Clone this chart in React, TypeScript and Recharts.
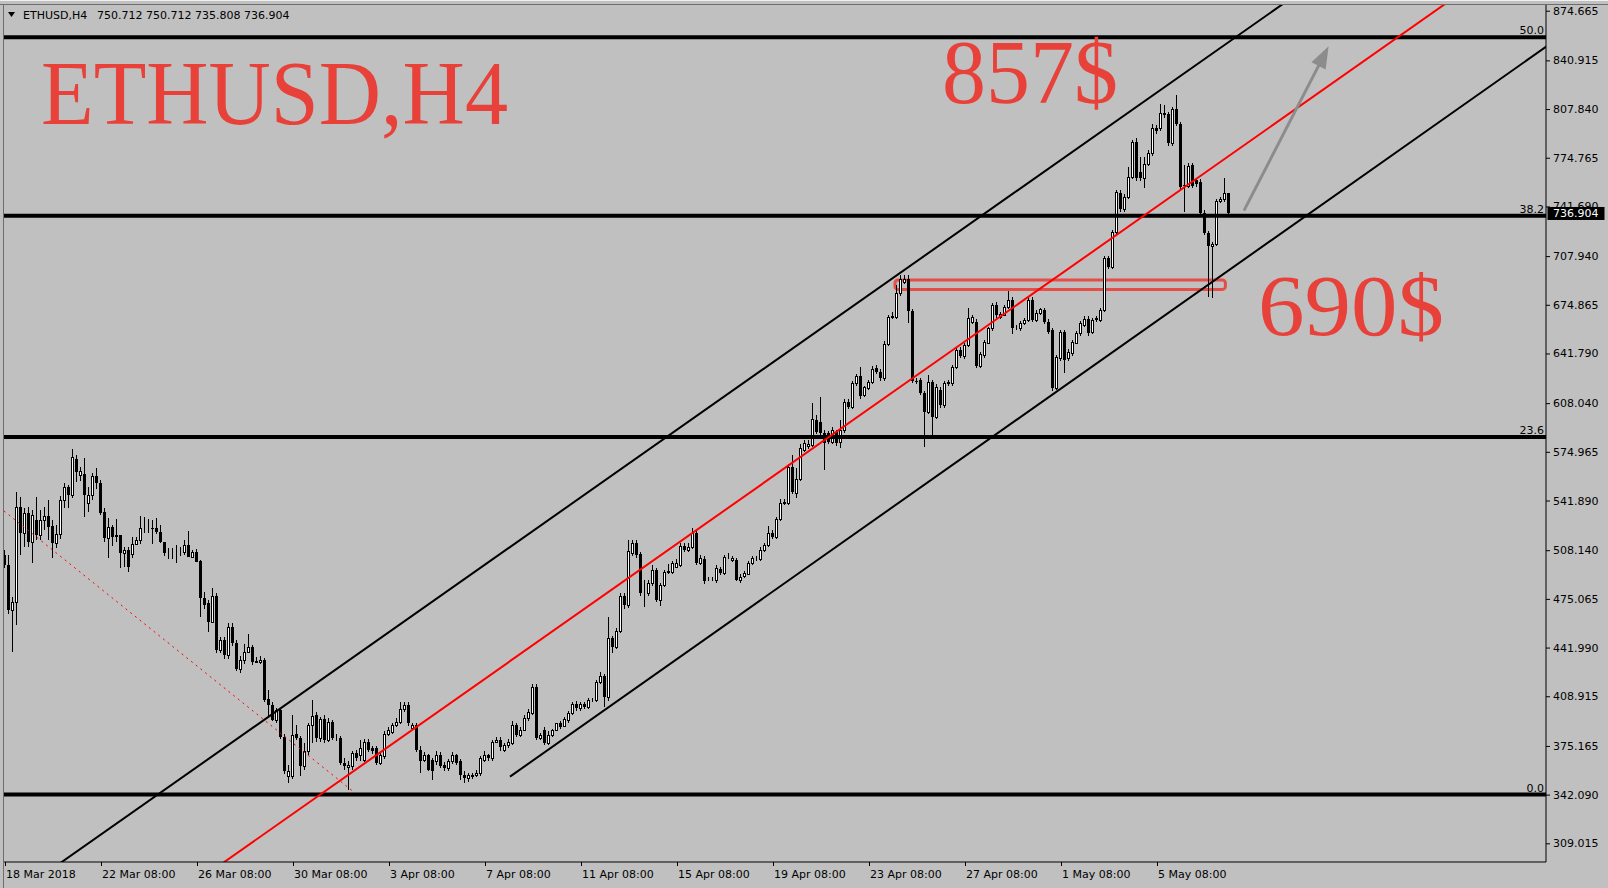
import React from "react";
import { ComposedChart, Bar, XAxis, YAxis, ReferenceLine, ReferenceArea } from "recharts";

// H4 candles, one row per bar: [open, high, low, close]. Bar 0 = 18 Mar 08:00.
type Ohlc = [number, number, number, number];

const bars18Mar: Ohlc[] = [
  [504.9, 508, 496, 498.1], [498.1, 505, 465, 467.5], [467.5, 476.6, 439.2, 473.2], [473.2, 547.9, 457.4, 537.7],
  [537.7, 544.5, 504.9, 519.6], [519.6, 536.6, 510.6, 533.2], [533.2, 537.7, 510, 514.0], [514.0, 535.5, 499.7, 532.1],
  [528.7, 544.5, 515.1, 518.5], [518.5, 535.5, 515.1, 528.7], [528.7, 537.7, 521.9, 531.4], [531.4, 542.3, 515.1, 524.1],
  [524.6, 528.7, 502.6, 512.8], [512.8, 525.3, 509.4, 518.9], [518.9, 545, 516, 542.3], [542.3, 553.6, 536.6, 550.9],
  [550.9, 552.4, 536.6, 545.7], [545.7, 576.9, 543.4, 571.2], [569.9, 572.8, 554.7, 561.5], [559.2, 565, 555, 561.9],
  [559.9, 570.6, 530.9, 545.7], [540.0, 551.3, 534.3, 545.7], [545.7, 560.4, 542, 558.6], [558.6, 563.8, 550, 553.6],
];
const bars22Mar: Ohlc[] = [
  [553.6, 555.8, 532.1, 533.2], [534.3, 537, 514, 516.2], [516.2, 529.8, 503.1, 524.1], [524.1, 525.3, 511.2, 517.4],
  [518.5, 529.1, 514, 517.4], [518.5, 518.5, 495.8, 506.0], [506.0, 510.6, 497, 508.3], [508.3, 510.6, 493.6, 497.0],
  [505.3, 517.4, 503, 512.1], [512.1, 516.9, 511.7, 515.1], [515.1, 531.4, 512.1, 523.0], [523.0, 530.5, 520, 523.5],
  [523.5, 529.1, 519.6, 523.5], [523.5, 528.7, 512.1, 523.0], [523.5, 529.8, 519, 520.7], [520.7, 525.3, 512.8, 513.5],
  [513.5, 514, 504, 506.0], [506.5, 509.4, 502, 506.5], [506.5, 509.4, 502, 506.5], [506.8, 511.7, 499.2, 507.0],
  [507.2, 510, 504, 507.2], [507.2, 515.1, 505, 511.7], [511.7, 521.2, 503.8, 503.8], [503.8, 508.3, 503.3, 506.7],
];
const bars26Mar: Ohlc[] = [
  [506.7, 509, 500.4, 500.4], [500.8, 501.5, 463, 475.5], [475.5, 479.9, 468, 471.0], [472.1, 474, 452.8, 459.6],
  [459.6, 482.3, 458.5, 477.1], [477.1, 479, 438, 440.4], [440.3, 449, 438, 447.1], [447.1, 449, 434, 436.9],
  [436.9, 458.5, 434, 455.8], [455.8, 458.5, 443, 445.3], [445.3, 447, 426, 427.2], [427.2, 436, 425, 433.5],
  [433.5, 444.4, 431, 439.2], [439.2, 450.9, 438.1, 442.6], [442.6, 444, 430, 432.4], [432.5, 435.3, 431.3, 432.6],
  [432.5, 436, 431, 433.6], [433.6, 435, 405.3, 406.4], [406.9, 413.2, 394, 403.1], [403.1, 405, 392, 392.9],
  [392.9, 401, 391, 399.7], [399.7, 401, 380, 381.5], [381.5, 383, 356, 357.8], [354.4, 362, 350.3, 358.4],
];
const bars30Mar: Ohlc[] = [
  [354.4, 396.3, 353, 382.7], [383.1, 389.5, 379, 380.4], [380.4, 382, 354.4, 361.2], [361.2, 377, 359, 371.4],
  [371.4, 391, 369, 389.5], [389.5, 406.4, 377, 395.6], [396.3, 398, 378, 380.4], [380.4, 395.1, 378, 393.3],
  [393.3, 396, 377, 379.3], [379.3, 394, 378, 391.4], [391.4, 393, 379, 380.4], [380.4, 383.2, 378.6, 380.8],
  [380.4, 382, 362, 363.4], [363.4, 366.8, 358.9, 361.2], [360.7, 365, 345.3, 362.3], [361.2, 372, 359, 370.2],
  [370.2, 372.5, 365, 366.8], [369.1, 379.3, 365, 373.6], [365.7, 380, 364, 378.1], [378.1, 380, 371, 372.5],
  [373.6, 375, 370, 371.4], [373.6, 375, 362, 363.4], [363.4, 371, 362, 369.1], [368, 385, 366, 383.1],
];
const bars03Apr: Ohlc[] = [
  [383.1, 388, 382, 386.1], [384.9, 391, 383, 389.5], [389.5, 394, 388, 391.7], [391.7, 405.3, 390, 400.1],
  [400.1, 405, 398, 403.1], [403.1, 405, 389, 390.6], [387.2, 391, 386, 389.5], [389.5, 391, 371, 372.5],
  [372.5, 374.8, 356.6, 365.2], [365.7, 371, 364, 369.1], [369.1, 370, 358, 358.9], [365.7, 367, 352.1, 357.8],
  [364.6, 372, 362, 369.1], [369.1, 371, 360, 361.2], [362.3, 364, 358, 360.0], [360.0, 366, 358, 364.6],
  [364.6, 371, 363, 369.1], [369.1, 370, 362, 363.4], [364.6, 366, 352.1, 355.5], [355.5, 357.8, 349.8, 353.2],
  [353.2, 357, 351, 355.5], [354.4, 357, 353, 355.5], [355.5, 359, 354, 357.1], [356.6, 368, 355, 366.8],
];
const bars07Apr: Ohlc[] = [
  [365.7, 371.4, 364, 369.1], [369.1, 370, 365, 366.8], [366.8, 379, 365, 378.1], [378.1, 380.9, 377, 379.3],
  [379.3, 381, 372, 374.7], [372.5, 377, 371, 375.9], [375.9, 380, 374, 378.1], [377, 392, 376, 389.5],
  [389.5, 391, 381, 382.7], [382.7, 388, 381, 386.1], [386.1, 396, 385, 394.0], [394.0, 400, 392, 398.5],
  [397.4, 417, 396, 415.5], [415.5, 417.5, 379, 380.4], [380.4, 384, 379, 382.7], [386.1, 388, 376, 377.0],
  [377, 385, 376, 382.7], [382.7, 387, 381, 386.1], [386.1, 391, 385, 390.6], [390.6, 392, 387, 388.3],
  [389, 395, 388, 393.5], [392.9, 399, 391, 397.4], [397.4, 405, 396, 403.7], [403.7, 406, 399, 400.8],
];
const bars11Apr: Ohlc[] = [
  [400.8, 405, 399, 403.7], [403.7, 405, 400, 401.5], [401.9, 408, 400, 406.4], [406.4, 408, 405, 406.6],
  [406.4, 420, 405, 418.9], [418.9, 425.3, 417, 422.7], [422.7, 424, 401.9, 408.7], [408.7, 463, 406, 448.3],
  [448.3, 450, 438.1, 442.7], [442.7, 455, 441, 453.3], [453.3, 479, 452, 477.1], [477.1, 479, 468, 470.9],
  [470.9, 515.1, 469, 507.6], [506.1, 515.1, 504, 513.3], [513.3, 515.1, 503, 505.0], [505.4, 507, 477, 479.3],
  [479.3, 487.9, 469.8, 479.3], [479.3, 488, 477, 485.6], [485.6, 498, 484, 494.7], [494.7, 496, 473, 474.4],
  [474.4, 486, 470, 484.5], [484.5, 495, 483, 493.6], [493.6, 499, 492, 494.3], [493.6, 501, 492, 499.3],
];
const bars15Apr: Ohlc[] = [
  [497, 502, 496, 499.7], [498.1, 513, 497, 511.0], [511.0, 513, 507, 508.3], [508.3, 513, 507, 510.6],
  [510.6, 523.5, 509, 520.1], [520.1, 522, 498, 499.7], [499.7, 505, 498, 502.6], [502, 504, 485, 487.3],
  [488.4, 490, 487, 488.4], [488.4, 490, 487, 488.6], [488, 498, 486, 495.9], [495.2, 497, 491, 492.5],
  [492.9, 505, 491, 503.3], [503.3, 506.5, 502, 503.3], [501.5, 504, 500, 502.6], [501.5, 503, 487, 488.0],
  [488, 492, 486, 490.2], [490.6, 494, 489, 492.5], [492, 501, 491, 499.7], [499.3, 504, 498, 502.6],
  [502.6, 504, 501, 502.8], [502, 510, 501, 508.3], [508.3, 513, 507, 511.7], [511.7, 524.6, 510, 520.1],
];
const bars19Apr: Ohlc[] = [
  [520.1, 522, 516, 517.4], [517.4, 531, 516, 529.4], [529.4, 542.7, 528, 540.5], [540.5, 543, 539, 540.7],
  [540, 567, 539, 564.9], [564.9, 572.8, 546, 547.9], [547.2, 563.8, 543.4, 556.3], [556.3, 580, 555, 577.4],
  [576.3, 583, 575, 580.8], [578.6, 583, 577, 580.6], [579.6, 607.9, 578, 597.1], [596.6, 600, 587, 588.7],
  [595.5, 612.5, 586, 587.6], [588, 590, 562.7, 581.2], [587.6, 589, 580, 581.9], [581.9, 592, 580, 589.8],
  [588.7, 590, 579, 581.2], [581.9, 596.6, 577.4, 589.8], [589.8, 611, 588, 609.1], [609.1, 611, 604, 605.7],
  [605.7, 623, 604, 621.5], [621.5, 628, 620, 626.5], [626.5, 632.9, 611, 612.9], [613.4, 620, 612, 618.8],
];
const bars23Apr: Ohlc[] = [
  [618.2, 624, 617, 622.7], [622.7, 633, 621, 631.1], [631.7, 634, 628, 629.5], [629.5, 631, 623, 624.9],
  [624.9, 650, 623, 648.3], [648.3, 668, 647, 666.8], [666.8, 670, 665, 667.0], [666.8, 688.3, 665, 682.7],
  [682.7, 695.1, 681, 692.2], [690.6, 695, 689, 692.2], [692.2, 695.1, 662.8, 670.9], [670.9, 672, 622, 623.4],
  [623.4, 625, 621, 622.5], [623.8, 625, 613.6, 614.7], [614.7, 616, 578.5, 602.3], [602.3, 627.2, 601, 622.7],
  [622.7, 624, 586.4, 598.9], [598.9, 621, 597, 619.3], [617, 619, 605, 606.8], [606.8, 623, 605, 622.0],
  [622, 624, 620, 622.2], [621.5, 634, 620, 632.9], [632.9, 646, 631, 644.2], [644.2, 646, 639, 640.1],
];
const bars27Apr: Ohlc[] = [
  [640.1, 649, 638, 647.6], [647.6, 673, 646, 665.7], [663, 668, 662, 666.8], [663.4, 665, 632, 633.3],
  [633.3, 643, 632, 641.5], [640.8, 651, 639, 649.8], [649.2, 660, 648, 658.9], [658.9, 676, 657, 674.7],
  [674.7, 677, 666, 667.9], [666.8, 670, 665, 668.9], [668, 675, 667, 673.6], [673.6, 684.5, 672, 678.1],
  [678.1, 680, 655, 658.9], [659.6, 661, 658, 659.6], [658.9, 664, 657, 662.3], [662.3, 666, 661, 664.6],
  [664.6, 680, 663, 678.1], [678.1, 680, 663, 664.6], [664.6, 671, 663, 669.1], [669.1, 673, 668, 671.8],
  [671.4, 673, 662, 663.4], [663.4, 665, 655, 656.6], [657.7, 659, 616, 618.2], [618.2, 641, 617, 639.2],
];
const bars01May: Ohlc[] = [
  [638.5, 658, 637, 656.6], [656.6, 658, 628.3, 637.4], [638.5, 645, 637, 643.0], [641.9, 651, 640, 649.8],
  [649.1, 657, 648, 655.9], [655.9, 664, 654, 662.3], [661.1, 667, 660, 665.0], [665, 667, 654, 655.9],
  [656.6, 666, 655, 664.5], [665.7, 667, 663, 664.5], [664.5, 673, 663, 671.3], [671.3, 708, 670, 706.4],
  [706.4, 708, 699, 700.3], [700.3, 726, 699, 724.5], [724.5, 753, 723, 751.7], [751.1, 753, 738, 739.8],
  [739.8, 750, 738, 748.4], [748.4, 768.2, 747, 761.5], [761.5, 787, 760, 785.7], [785.7, 788, 759, 760.8],
  [765, 775, 759, 761], [760.8, 775, 754, 770.5], [770.5, 780, 769, 777.8], [777.8, 797.7, 776, 794.8],
];
const bars05May: Ohlc[] = [
  [794.8, 797, 791, 793.2], [794.8, 811.3, 793, 805.0], [805, 810.4, 802, 803.8], [804.5, 806, 783, 784.6],
  [784.6, 809, 783, 807.7], [807.7, 817.4, 796, 797.7], [797.7, 799, 753, 754.7], [756.3, 769.9, 738.2, 756.0],
  [755.6, 771, 754, 769.2], [769.9, 771, 754, 755.6], [759.7, 761, 755, 757.0], [758.5, 760, 736, 737.5],
  [737.5, 739, 722, 723.5], [723.5, 725, 680.4, 714.9], [714.9, 717.5, 679.3, 716.2], [716.2, 747, 715, 745.6],
  [745.6, 748, 744, 746.5], [746.5, 760.8, 745, 751.1], [750.712, 750.712, 735.808, 736.904],
];

const timeTicks = [0, 24, 48, 72, 96, 120, 144, 168, 192, 216, 240, 264, 288];
const timeLabels = [
  "18 Mar 2018", "22 Mar 08:00", "26 Mar 08:00", "30 Mar 08:00", "3 Apr 08:00", "7 Apr 08:00",
  "11 Apr 08:00", "15 Apr 08:00", "19 Apr 08:00", "23 Apr 08:00", "27 Apr 08:00", "1 May 08:00", "5 May 08:00",
];
const priceTicks = [
  309.015, 342.09, 375.165, 408.915, 441.99, 475.065, 508.14, 541.89, 574.965,
  608.04, 641.79, 674.865, 707.94, 741.69, 774.765, 807.84, 840.915, 874.665,
];
const lastPrice = 736.904;

const fibPrices = [342.15, 585.0, 735.4, 856.7];
const fibNames = ["0.0", "23.6", "38.2", "50.0"];

// trend lines, endpoints in (bar, price)
const upperChannel = [{ x: 10, y: 288.3 }, { x: 325, y: 889.8 }];
const lowerChannel = [{ x: 126.25, y: 354.3 }, { x: 386, y: 851.6 }];
const midLine = [{ x: 50, y: 287.1 }, { x: 370, y: 898.3 }];
const oldTrend = [{ x: -0.25, y: 534.8 }, { x: 87.1, y: 344.1 }];
const arrowPath = [{ x: 309.9, y: 739.7 }, { x: 330.9, y: 850.5 }];
const zoneBars = [222.5, 305.1];
const zonePrices = [685.3, 691.7];

const allBars = [
  ...bars18Mar, ...bars22Mar, ...bars26Mar, ...bars30Mar, ...bars03Apr, ...bars07Apr, ...bars11Apr,
  ...bars15Apr, ...bars19Apr, ...bars23Apr, ...bars27Apr, ...bars01May, ...bars05May,
];
const data = allBars.map(([o, h, l, c], i) => ({ i, open: o, high: h, low: l, close: c, range: [l, h] }));

const AXIS_FONT = "'DejaVu Sans', sans-serif";
const RED_TEXT = "#e8413a";

const Candle = (props: any) => {
  const { x, y, width, height, payload } = props;
  if (x == null || !payload) return null;
  const { open, high, low, close } = payload;
  const top = Math.min(y, y + height);
  const span = Math.abs(height);
  const k = high === low ? 0 : span / (high - low);
  const yOf = (v: number) => top + (high - v) * k;
  const cx = Math.round(x + width / 2 - 0.5) + 0.5;
  const bTop = Math.round(yOf(Math.max(open, close)));
  const bBot = Math.round(yOf(Math.min(open, close)));
  const bull = close >= open;
  return (
    <g shapeRendering="crispEdges">
      <line x1={cx} x2={cx} y1={top} y2={top + span} stroke="#000" strokeWidth={1} />
      {bull ? (
        <rect x={cx - 1} y={bTop + 0.5} width={2} height={Math.max(bBot - bTop, 0)} fill="#fff" stroke="#000" strokeWidth={1} />
      ) : (
        <rect x={cx - 1.5} y={bTop} width={3} height={Math.max(bBot - bTop, 1)} fill="#000" />
      )}
    </g>
  );
};

const PriceTick = (props: any) => {
  const { x, y, payload } = props;
  if (payload.value === lastPrice) {
    return (
      <g>
        <rect x={x - 4.5} y={y - 6.5} width={57} height={13} fill="#000" />
        <text x={x + 1} y={y} dy={4} fill="#fff" fontSize={11} fontFamily={AXIS_FONT}>
          {lastPrice.toFixed(3)}
        </text>
      </g>
    );
  }
  return (
    <g>
      <line x1={x - 6} x2={x - 2} y1={y + 0.5} y2={y + 0.5} stroke="#000" />
      <text x={x + 1} y={y} dy={4} fill="#000" fontSize={11} fontFamily={AXIS_FONT}>
        {payload.value.toFixed(3)}
      </text>
    </g>
  );
};

const TimeTick = (props: any) => {
  const { x, y, payload } = props;
  const idx = timeTicks.indexOf(payload.value);
  return (
    <g>
      <line x1={x + 0.5} x2={x + 0.5} y1={y - 6} y2={y - 2} stroke="#000" />
      <text x={x + 1} y={y} dy={10} fill="#000" fontSize={11} fontFamily={AXIS_FONT}>
        {timeLabels[idx]}
      </text>
    </g>
  );
};

const fibLabel = (text: string) => (props: any) => {
  const vb = props.viewBox;
  if (!vb) return null;
  return (
    <text x={vb.x + vb.width - 2} y={vb.y - 3} textAnchor="end" fill="#000" fontSize={11} fontFamily={AXIS_FONT}>
      {text}
    </text>
  );
};

const Arrow = (props: any) => {
  const { x1, y1, x2, y2 } = props;
  const dx = x2 - x1, dy = y2 - y1;
  const len = Math.hypot(dx, dy) || 1;
  const ux = dx / len, uy = dy / len;
  const bx = x2 - ux * 22, by = y2 - uy * 22;
  const px = -uy * 8, py = ux * 8;
  return (
    <g>
      <line x1={x1} y1={y1} x2={bx} y2={by} stroke="#8c8c8c" strokeWidth={3} strokeLinecap="round" />
      <polygon points={`${x2},${y2} ${bx + px},${by + py} ${bx - px},${by - py}`} fill="#8c8c8c" />
    </g>
  );
};

const Zone = (props: any) => {
  const { x, y, width, height } = props;
  return <rect x={x} y={y} width={width} height={height} rx={3} ry={3} fill="none" stroke={RED_TEXT} strokeOpacity={0.9} strokeWidth={3} />;
};

export default function App() {
  return (
    <div style={{ position: "relative", width: 1608, height: 888, background: "#c0c0c0", overflow: "hidden" }}>
      <style>{`body{margin:0;overflow:hidden;}`}</style>
      <ComposedChart width={1608} height={888} data={data} margin={{ top: 5, right: 0, bottom: 0, left: 4 }}>
        <XAxis
          dataKey="i"
          type="number"
          domain={[-0.25, 385.25]}
          allowDataOverflow
          ticks={timeTicks}
          interval={0}
          height={26}
          tickSize={4}
          tickMargin={2}
          tickLine={false}
          axisLine={{ stroke: "#000" }}
          tick={<TimeTick />}
        />
        <YAxis
          orientation="right"
          type="number"
          domain={[296.31, 878.54]}
          allowDataOverflow
          ticks={[...priceTicks, lastPrice]}
          interval={0}
          width={62}
          tickSize={4}
          tickMargin={2}
          tickLine={false}
          axisLine={{ stroke: "#000" }}
          tick={<PriceTick />}
        />
        <Bar dataKey="range" barSize={3} isAnimationActive={false} shape={<Candle />} />
        <ReferenceLine segment={oldTrend} stroke="#ff0000" strokeWidth={1} strokeDasharray="2 4" ifOverflow="hidden" />
        {fibPrices.map((p, n) => (
          <ReferenceLine key={fibNames[n]} y={p} stroke="#000" strokeWidth={4} label={fibLabel(fibNames[n])} />
        ))}
        <ReferenceLine segment={upperChannel} stroke="#000" strokeWidth={2} ifOverflow="hidden" />
        <ReferenceLine segment={lowerChannel} stroke="#000" strokeWidth={2} ifOverflow="hidden" />
        <ReferenceLine segment={midLine} stroke="#ff0000" strokeWidth={2} ifOverflow="hidden" />
        <ReferenceArea x1={zoneBars[0]} x2={zoneBars[1]} y1={zonePrices[0]} y2={zonePrices[1]} shape={<Zone />} ifOverflow="visible" />
        <ReferenceLine segment={arrowPath} shape={(p: any) => <Arrow {...p} />} ifOverflow="visible" />
      </ComposedChart>
      <svg width={1608} height={888} style={{ position: "absolute", left: 0, top: 0, pointerEvents: "none" }}>
        <line x1={0} x2={1608} y1={0.5} y2={0.5} stroke="#f0f0f0" />
        <line x1={0} x2={1608} y1={4.5} y2={4.5} stroke="#6e6e6e" />
        <line x1={3.5} x2={3.5} y1={4} y2={888} stroke="#6e6e6e" />
        <polygon points="8,12 15,12 11.5,17" fill="#000" />
        <text x={23} y={19} fontSize={11} fontFamily={AXIS_FONT} fill="#000">ETHUSD,H4</text>
        <text x={97} y={19} fontSize={11} fontFamily={AXIS_FONT} fill="#000">750.712 750.712 735.808 736.904</text>
        <text x={41} y={124} fontSize={90} fontFamily="'Liberation Serif', serif" fill={RED_TEXT} textLength={467} lengthAdjust="spacingAndGlyphs">
          ETHUSD,H4
        </text>
        <text x={942} y={103} fontSize={92} fontFamily="'Liberation Serif', serif" fill={RED_TEXT} textLength={176} lengthAdjust="spacingAndGlyphs">
          857$
        </text>
        <text x={1258} y={335} fontSize={86} fontFamily="'Liberation Serif', serif" fill={RED_TEXT} textLength={186} lengthAdjust="spacingAndGlyphs">
          690$
        </text>
      </svg>
    </div>
  );
}
